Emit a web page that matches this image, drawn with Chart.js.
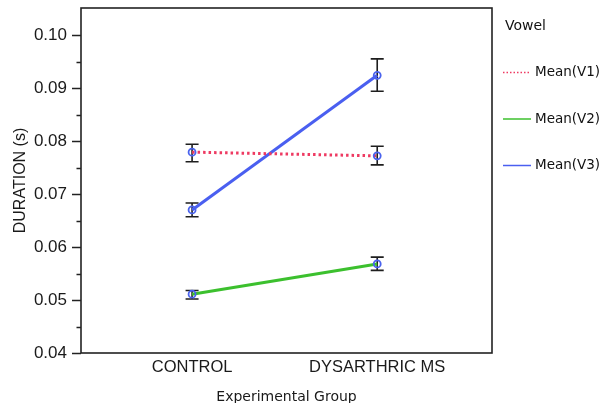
<!DOCTYPE html>
<html>
<head>
<meta charset="utf-8">
<script src="https://cdn.jsdelivr.net/npm/chart.js@4/dist/chart.umd.min.js"></script>
<style>
  html, body { margin: 0; padding: 0; background: #fff; }
  #wrap { width: 603px; height: 403px; position: relative; }
</style>
</head>
<body>
<div id="wrap"><canvas id="c" width="603" height="403"></canvas></div>
<script>
// ---- data ----
const groups = ['CONTROL', 'DYSARTHRIC MS'];
const seriesLabels = ['Mean(V1)', 'Mean(V2)', 'Mean(V3)'];
const v1Mean = [0.0779, 0.0772];
const v1Low  = [0.0761, 0.0755];
const v1High = [0.0794, 0.0790];
const v2Mean = [0.0511, 0.0568];
const v2Low  = [0.0502, 0.0556];
const v2High = [0.0518, 0.0581];
const v3Mean = [0.0670, 0.0924];
const v3Low  = [0.0657, 0.0894];
const v3High = [0.0683, 0.0955];
const yMajorTicks = [0.04, 0.05, 0.06, 0.07, 0.08, 0.09, 0.10];
const yMinorTicks = [0.045, 0.055, 0.065, 0.075, 0.085, 0.095];
const legendTitle = 'Vowel';
const xTitle = 'Experimental Group';
const yTitle = 'DURATION (s)';

const pts = (arr) => arr.map((v, i) => ({ x: i, y: v }));
const markerColor = '#4a63ee';

const datasets = [
  { label: seriesLabels[0], data: pts(v1Mean), lo: v1Low, hi: v1High,
    borderColor: '#ee3a62', borderWidth: 3, borderDash: [2.5, 3] },
  { label: seriesLabels[1], data: pts(v2Mean), lo: v2Low, hi: v2High,
    borderColor: '#3cc02e', borderWidth: 3 },
  { label: seriesLabels[2], data: pts(v3Mean), lo: v3Low, hi: v3High,
    borderColor: '#4a5ff0', borderWidth: 3 }
].map(d => Object.assign(d, {
  pointRadius: 3.5, pointBorderWidth: 1.8, pointBorderColor: markerColor,
  pointBackgroundColor: 'rgba(0,0,0,0)', pointHoverRadius: 3.5, tension: 0, fill: false
}));

const framePlugin = {
  id: 'frame',
  beforeDatasetsDraw(chart) {
    const { ctx, scales } = chart;
    const y = scales.y, x = scales.x;
    ctx.save();
    ctx.strokeStyle = '#1e1e1e';
    ctx.lineWidth = 1.6;
    chart.data.datasets.forEach(ds => {
      ds.data.forEach((p, i) => {
        const px = x.getPixelForValue(p.x);
        const yl = y.getPixelForValue(ds.lo[i]);
        const yh = y.getPixelForValue(ds.hi[i]);
        ctx.beginPath();
        ctx.moveTo(px, yl); ctx.lineTo(px, yh);
        ctx.moveTo(px - 6.5, yl); ctx.lineTo(px + 6.5, yl);
        ctx.moveTo(px - 6.5, yh); ctx.lineTo(px + 6.5, yh);
        ctx.stroke();
      });
    });
    ctx.restore();
  },
  afterDraw(chart) {
    const { ctx, chartArea: a, scales } = chart;
    const y = scales.y;
    ctx.save();
    ctx.strokeStyle = '#222';
    ctx.lineWidth = 1.6;
    ctx.strokeRect(a.left, a.top, a.right - a.left, a.bottom - a.top);
    ctx.beginPath();
    yMajorTicks.forEach(v => {
      const py = Math.round(y.getPixelForValue(v)) + 0.5;
      ctx.moveTo(a.left - 9, py); ctx.lineTo(a.left, py);
    });
    yMinorTicks.forEach(v => {
      const py = Math.round(y.getPixelForValue(v)) + 0.5;
      ctx.moveTo(a.left - 4.5, py); ctx.lineTo(a.left, py);
    });
    ctx.stroke();

    // legend
    ctx.fillStyle = '#111';
    ctx.font = '14px "DejaVu Sans"';
    ctx.textBaseline = 'middle';
    ctx.textAlign = 'left';
    ctx.fillText(legendTitle, 505, 26);
    ctx.font = '13.5px "DejaVu Sans"';
    chart.data.datasets.forEach((ds, i) => {
      const ly = 72.5 + i * 46.5;
      ctx.strokeStyle = ds.borderColor;
      ctx.lineWidth = 1.5;
      ctx.setLineDash(ds.borderDash ? [1.5, 2] : []);
      ctx.beginPath();
      ctx.moveTo(503, ly); ctx.lineTo(531, ly);
      ctx.stroke();
      ctx.setLineDash([]);
      ctx.fillText(ds.label, 535, ly);
    });
    ctx.restore();
  }
};

new Chart(document.getElementById('c'), {
  type: 'line',
  data: { datasets },
  plugins: [framePlugin],
  options: {
    responsive: false,
    animation: false,
    layout: { padding: { left: 0, right: 111, top: 8, bottom: 0 } },
    plugins: { legend: { display: false }, tooltip: { enabled: false } },
    scales: {
      x: {
        type: 'linear', min: -0.6, max: 1.62,
        afterBuildTicks: (s) => { s.ticks = groups.map((g, i) => ({ value: i })); },
        afterFit: (s) => { s.height = 50; s.paddingLeft = 0; s.paddingRight = 0; },
        grid: { display: false, drawTicks: false }, border: { display: false },
        ticks: {
          callback: (v) => groups[v] ?? '',
          font: { family: '"Liberation Sans", Arial', size: 16.5 },
          color: '#1a1a1a', padding: 5, maxRotation: 0
        },
        title: {
          display: true, text: xTitle,
          font: { family: '"DejaVu Sans"', size: 14, lineHeight: 0.8 },
          color: '#1a1a1a', padding: { top: 0, bottom: 0 }
        }
      },
      y: {
        min: 0.04, max: 0.1051,
        afterBuildTicks: (s) => { s.ticks = yMajorTicks.map(v => ({ value: v })); },
        afterFit: (s) => { s.width = 81; s.paddingTop = 0; s.paddingBottom = 0; },
        grid: { display: false, drawTicks: false }, border: { display: false },
        ticks: {
          callback: (v) => Number(v).toFixed(2),
          font: { family: '"Liberation Sans", Arial', size: 17 },
          color: '#1a1a1a', padding: 14
        },
        title: {
          display: true, text: yTitle,
          font: { family: '"Liberation Sans", Arial', size: 16, lineHeight: 1.2 },
          color: '#1a1a1a', padding: { top: 11, bottom: 0 }
        }
      }
    }
  }
});
</script>
</body>
</html>
